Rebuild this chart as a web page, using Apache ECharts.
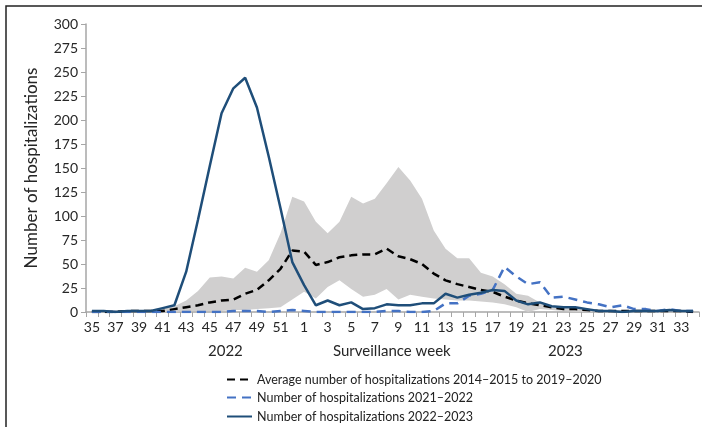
<!DOCTYPE html>
<html>
<head>
<meta charset="utf-8">
<script src="https://cdn.jsdelivr.net/npm/echarts@6/dist/echarts.min.js"></script>
<style>
  html, body { margin: 0; padding: 0; background: #fff; }
  #chart { width: 702px; height: 427px; }
</style>
</head>
<body>
<div id="chart"></div>
<script>
// surveillance weeks 35-52 of 2022, then 1-34 of 2023
const weeks = ['35','36','37','38','39','40','41','42','43','44','45','46','47','48','49','50','51','52',
  '1','2','3','4','5','6','7','8','9','10','11','12','13','14','15','16','17','18','19','20',
  '21','22','23','24','25','26','27','28','29','30','31','32','33','34'];

const avgHosp = [0,0,0,1,1,1,1,3,5,7,10,12,13,19,23,33,45,64,
  63,49,52,57,59,60,60,66,58,55,50,40,33,29,26,23,21,16,12,9,7,5,3,3,2,1,1,1,1,1,1,1,1,0];

const hosp2122 = [0,0,0,0,0,0,0,0,0,0,0,0,1,1,1,0,1,2,
  1,0,0,0,0,0,0,1,1,0,0,1,9,9,17,19,23,47,37,29,31,15,16,13,10,8,5,7,3,3,1,3,1,1];

const hosp2223 = [1,1,0,1,1,1,4,7,42,96,152,207,233,244,213,162,108,52,
  28,7,12,7,10,3,4,8,7,7,9,9,19,15,18,20,23,22,12,8,10,6,5,5,3,1,1,0,1,1,1,2,1,1];

// grey range (min / max of previous seasons)
const rangeLow = [0,0,0,0,0,0,0,0,1,1,1,1,2,2,3,4,5,13,
  21,14,26,33,24,16,18,24,13,18,16,14,13,12,12,11,10,8,5,0,3,2,1,0,0,0,0,0,0,0,0,0,0,0];
const rangeHigh = [2,2,2,2,2,2,3,6,12,22,36,37,35,46,42,54,82,120,
  115,94,82,94,120,113,118,134,151,137,118,85,66,56,56,41,37,29,19,17,10,5,4,3,3,2,2,2,2,2,2,2,2,2];

const seriesNames = ['Average number of hospitalizations 2014\u20132015 to 2019\u20132020',
  'Number of hospitalizations 2021\u20132022',
  'Number of hospitalizations 2022\u20132023'];

const chart = echarts.init(document.getElementById('chart'));
const font = 'Lato, "Noto Sans", sans-serif';

// one legend per row so they stack like the original
const legendTops = [373, 391, 410];
const legends = seriesNames.map((n, i) => ({
  orient: 'vertical',
  left: 226,
  top: legendTops[i],
  padding: 0,
  itemWidth: 25,
  itemHeight: 10,
  itemStyle: { opacity: 0 },
  data: [n],
  textStyle: { fontSize: 12.5, color: '#222', fontFamily: font }
}));

const option = {
  animation: false,
  textStyle: { fontFamily: font },
  grid: { left: 86, right: 3, top: 24, bottom: 115 },
  legend: legends,
  xAxis: {
    type: 'category',
    data: weeks,
    boundaryGap: true,
    axisLine: { lineStyle: { color: '#a6a6a6', width: 1.5 } },
    axisTick: { show: true, interval: 0, length: 5, lineStyle: { color: '#a6a6a6' } },
    axisLabel: { interval: 1, color: '#262626', fontSize: 14, margin: 8, fontFamily: font }
  },
  yAxis: {
    type: 'value',
    min: 0,
    max: 300,
    interval: 25,
    name: 'Number of hospitalizations',
    nameLocation: 'middle',
    nameGap: 46,
    nameTextStyle: { fontSize: 17, color: '#262626', fontFamily: font },
    axisLine: { show: true, lineStyle: { color: '#a6a6a6', width: 1.5 } },
    axisTick: { show: true, length: 5, lineStyle: { color: '#a6a6a6' } },
    axisLabel: { color: '#262626', fontSize: 14, margin: 8, fontFamily: font },
    splitLine: { show: false }
  },
  graphic: [
    { type: 'rect', shape: { x: 6, y: 6, width: 800, height: 600 },
      style: { fill: 'none', stroke: '#222', lineWidth: 1.5 }, silent: true },
    { type: 'text', left: 208, top: 344,
      style: { text: '2022', fontSize: 15, fill: '#262626', fontFamily: font } },
    { type: 'text', left: 333, top: 344,
      style: { text: 'Surveillance week', fontSize: 15, fill: '#262626', fontFamily: font } },
    { type: 'text', left: 548, top: 344,
      style: { text: '2023', fontSize: 15, fill: '#262626', fontFamily: font } }
  ],
  series: [
    {
      name: 'rangeLow', type: 'line', stack: 'range', data: rangeLow,
      symbol: 'none', lineStyle: { opacity: 0 }, silent: true, z: 1
    },
    {
      name: 'rangeSpan', type: 'line', stack: 'range',
      data: rangeHigh.map((h, i) => h - rangeLow[i]),
      symbol: 'none', lineStyle: { opacity: 0 },
      areaStyle: { color: '#d0cfcf', opacity: 1 }, silent: true, z: 1
    },
    {
      name: seriesNames[0],
      type: 'line', data: avgHosp, symbol: 'none', z: 3,
      itemStyle: { color: '#000' },
      lineStyle: { color: '#000', width: 2.5, type: [8, 5] }
    },
    {
      name: seriesNames[1],
      type: 'line', data: hosp2122, symbol: 'none', z: 3,
      itemStyle: { color: '#4472c4' },
      lineStyle: { color: '#4472c4', width: 2.5, type: [9, 6] }
    },
    {
      name: seriesNames[2],
      type: 'line', data: hosp2223, symbol: 'none', z: 4,
      itemStyle: { color: '#1f4e79' },
      lineStyle: { color: '#1f4e79', width: 2.5 }
    }
  ]
};

chart.setOption(option);
</script>
</body>
</html>
